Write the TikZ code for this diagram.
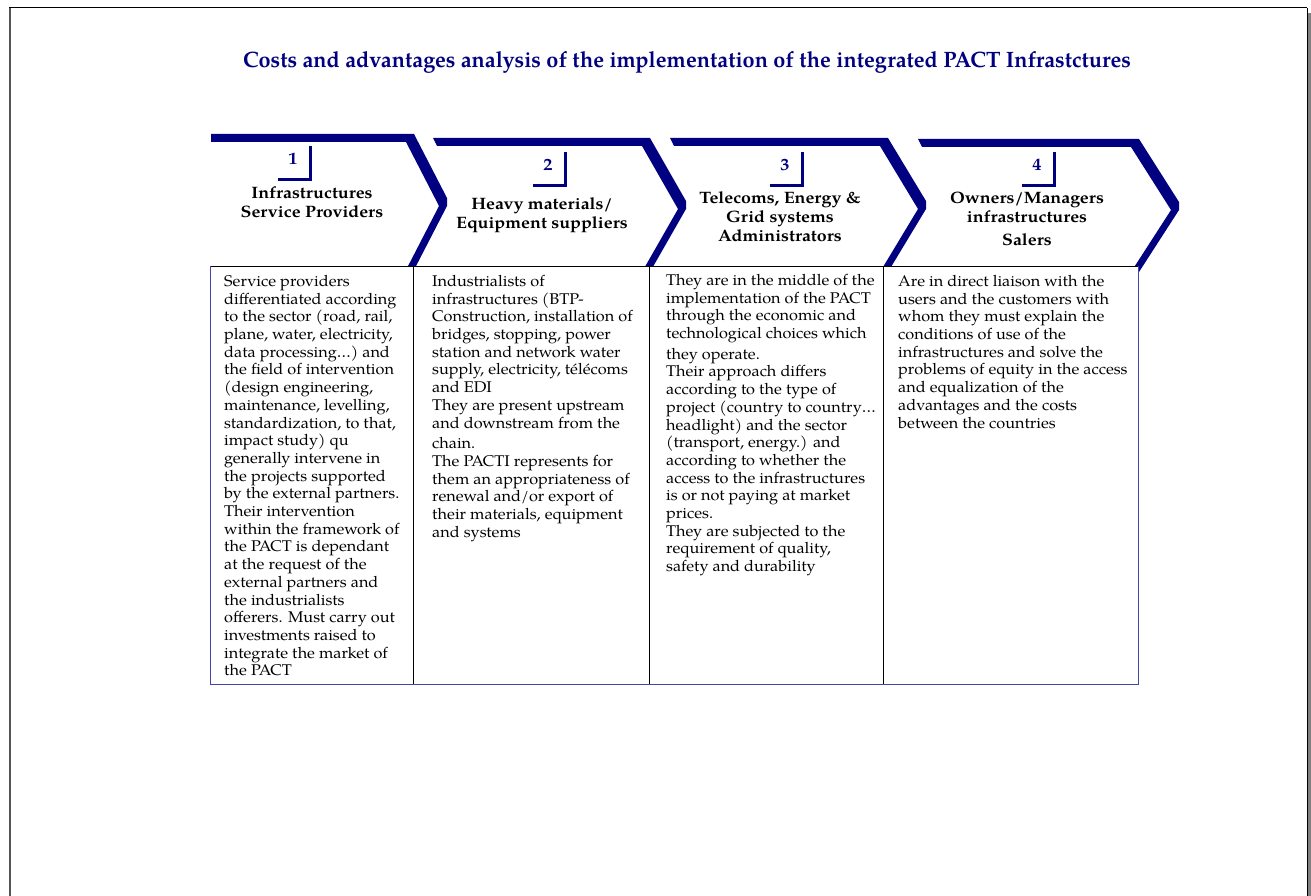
\documentclass[tikz,border=0pt]{standalone}
\usepackage{fontspec}
\setmainfont{TeX Gyre Pagella}
\newfontfamily\bodyfont[FakeStretch=1.05]{TeX Gyre Pagella}
\newfontfamily\headfont[FakeStretch=1.08]{TeX Gyre Pagella}
\usepackage{graphicx}
\usetikzlibrary{calc}
\definecolor{navy}{RGB}{0,0,128}
\definecolor{frameblue}{RGB}{70,70,160}
\definecolor{framegray}{RGB}{85,85,85}
\begin{document}
\begin{tikzpicture}[x=1pt,y=-1pt,
  band/.style={fill=navy,draw=none},
  numbox/.style={minimum width=34pt,minimum height=40pt,inner sep=0pt,text=navy,
    font=\headfont\fontsize{17}{20}\selectfont\bfseries},
  numshadow/.style={draw=navy,line width=3pt},
  head/.style={align=center,inner sep=0pt,font=\headfont\fontsize{16.5}{19}\selectfont\bfseries},
  body/.style={align=left,inner sep=0pt,anchor=north west,
    font=\bodyfont\fontsize{15.5}{17.7}\selectfont},
  inner/.style={draw=black,line width=0.8pt},
  outer/.style={draw=frameblue,line width=0.8pt}]
\useasboundingbox (0,0) rectangle (1311,896);
% page frame
\draw[black,line width=1pt] (9,8) -- (1307,8);
\draw[black,line width=1pt] (1307,8) -- (1307,896);
\draw[gray,line width=3pt] (1309.5,13) -- (1309.5,896);
\draw[framegray,line width=2pt] (10,8) -- (10,896);
% title
\node[anchor=base,inner sep=0pt,text=navy] (title) at (687,68)
  {\resizebox{888pt}{16pt}{\bfseries Costs and advantages analysis of the implementation of the integrated PACT Infrastctures}};
% chevron bands
\fill[band] (211,134) -- (414,134) -- (447,198) -- (447,206) -- (414,270) -- (406,270) -- (439,206) -- (406,142) -- (211,142) -- cycle;
\fill[band] (433,138) -- (650,138) -- (686,201) -- (686,209) -- (650,272) -- (642,272) -- (678,209) -- (642,146) -- (437,146) -- cycle;
\fill[band] (670,138) -- (888,138) -- (926,201) -- (926,209) -- (888,272) -- (880,272) -- (918,209) -- (880,146) -- (674,146) -- cycle;
\fill[band] (918,139) -- (1139,139) -- (1179,202) -- (1179,210) -- (1139,272) -- (1131,272) -- (1171,210) -- (1131,147) -- (922,147) -- cycle;
% table background
\fill[white] (209,266) rectangle (1139,685);
% number boxes
\node[numbox] (n1) at (293,159) {1};
\node[numbox] (n2) at (548,165) {2};
\node[numbox] (n3) at (785,165) {3};
\node[numbox] (n4) at (1037,165) {4};
\foreach \n in {n1,n2,n3,n4}{
  \draw[numshadow] ($(\n.south west)+(2,0.5)$) -| ($(\n.north east)+(0,7)$);
}
% headings
\node[head] (h1) at (312,202) {Infrastructures\\Service Providers};
\node[head] (h2) at (542,215) {Heavy materials/\\Equipment suppliers};
\node[head] (h3) at (780,217) {Telecoms, Energy \&\\Grid systems\\Administrators};
\node[head] (h4) at (1027,219) {Owners/Managers\\infrastructures\\[4pt]Salers};
% table lines
\coordinate (tl) at (210,266);
\coordinate (tr) at (1138,266);
\coordinate (bl) at (210,684);
\coordinate (br) at (1138,684);
\draw[inner] (tl) -- (tr);
\draw[outer] (tr) -- (br) -- (bl) -- (tl);
\draw[inner] (413,266) -- (413,684);
\draw[inner] (649,266) -- (649,684);
\draw[inner] (883,266) -- (883,684);
% body texts
\node[body] (t1) at (224,275) {Service providers\\differentiated according\\to the sector (road, rail,\\plane, water, electricity,\\data processing…) and\\the field of intervention\\(design engineering,\\maintenance, levelling,\\standardization, to that,\\impact study) qu\\generally intervene in\\the projects supported\\by the external partners.\\Their intervention\\within the framework of\\the PACT is dependant\\at the request of the\\external partners and\\the industrialists\\offerers. Must carry out\\investments raised to\\integrate the market of\\the PACT};
\node[body] (t2) at (432,275) {Industrialists of\\infrastructures (BTP-\\Construction, installation of\\bridges, stopping, power\\station and network water\\supply, electricity, télécoms\\and EDI\\They are present upstream\\and downstream from the\\[3pt]chain.\\The PACTI represents for\\them an appropriateness of\\renewal and/or export of\\their materials, equipment\\and systems};
\node[body] (t3) at (666,274) {They are in the middle of the\\implementation of the PACT\\through the economic and\\technological choices which\\[3pt]they operate.\\Their approach differs\\according to the type of\\project (country to country…\\headlight) and the sector\\(transport, energy.) and\\according to whether the\\access to the infrastructures\\is or not paying at market\\prices.\\They are subjected to the\\requirement of quality,\\safety and durability};
\node[body] (t4) at (898,275) {Are in direct liaison with the\\users and the customers with\\whom they must explain the\\conditions of use of the\\infrastructures and solve the\\problems of equity in the access\\and equalization of the\\advantages and the costs\\between the countries};
\end{tikzpicture}
\end{document}
